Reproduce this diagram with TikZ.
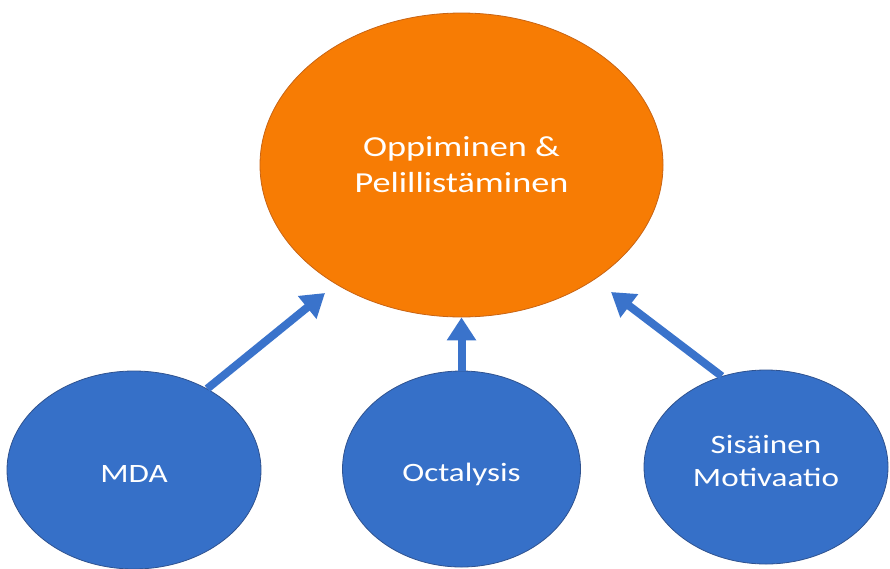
\documentclass[tikz,border=0pt]{standalone}
\usepackage{fontspec}
\newfontfamily\lbl{Carlito}[FakeStretch=1.25]
\usetikzlibrary{shapes.geometric,arrows.meta}
\definecolor{orfill}{RGB}{247,124,4}
\definecolor{ordraw}{RGB}{200,100,20}
\definecolor{blfill}{RGB}{54,112,200}
\definecolor{bldraw}{RGB}{47,82,143}
\definecolor{arrcol}{RGB}{58,115,203}
\tikzset{
  bigoval/.style={ellipse, fill=orfill, draw=ordraw, line width=0.8pt, inner sep=0pt,
    minimum width=403pt, minimum height=304pt, text=white, align=center,
    font=\lbl\fontsize{29}{36}\selectfont},
  smalloval/.style={ellipse, fill=blfill, draw=bldraw, line width=0.8pt, inner sep=0pt,
    text=white, font=\lbl\fontsize{26.5}{33}\selectfont},
  feed/.style={draw=arrcol, line width=8pt, -{Triangle[length=23pt,width=28pt]}}
}
\begin{document}
\begin{tikzpicture}[x=1pt,y=-1pt]
\useasboundingbox (0,0) rectangle (890,568);
\node[bigoval] (learn) at (461.5,165) {Oppiminen \&\\Pelillistäminen};
\node[smalloval, minimum width=254pt, minimum height=198pt] (mda) at (134,470)
  {\raisebox{-12pt}[0pt][0pt]{MDA}};
\node[smalloval, minimum width=238pt, minimum height=196pt] (oct) at (461.5,469)
  {\raisebox{-12.5pt}[0pt][0pt]{Octalysis}};
\node[smalloval, minimum width=244pt, minimum height=194pt] (sis) at (766,467)
  {\raisebox{-19pt}[0pt][0pt]{\begin{tabular}[b]{@{}c@{}}Sisäinen\\Motivaatio\end{tabular}}};
\coordinate (t1) at (325,293);
\coordinate (t3) at (611,292);
\draw[feed] (mda.48) -- (t1);
\draw[feed] (oct.north) -- (learn.south);
\draw[feed] (sis.116) -- (t3);
\end{tikzpicture}
\end{document}
